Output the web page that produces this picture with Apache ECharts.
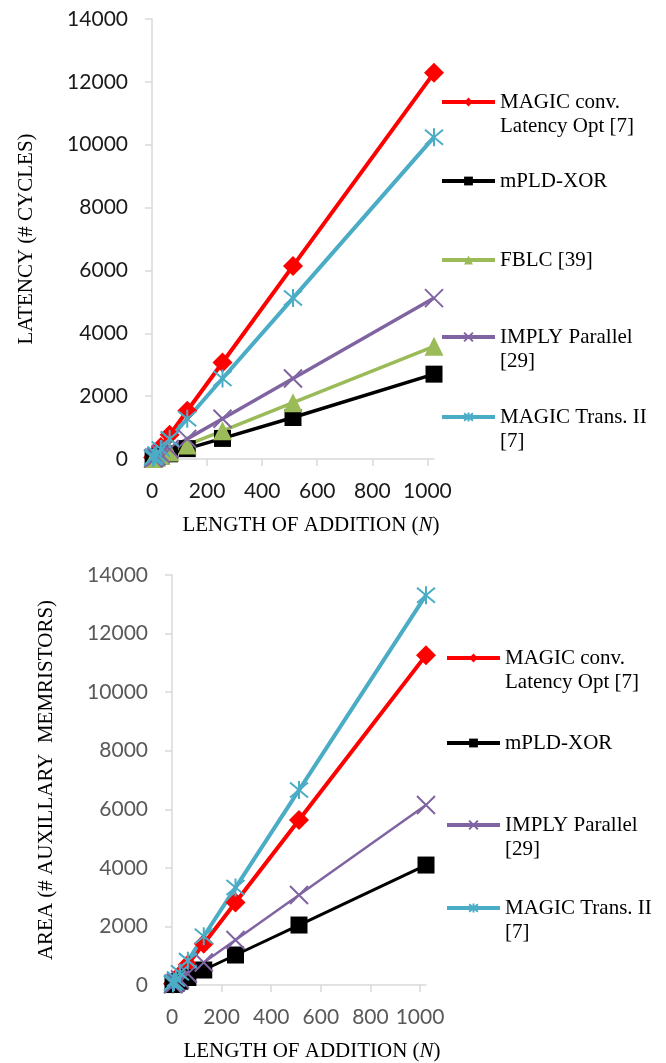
<!DOCTYPE html>
<html>
<head>
<meta charset="utf-8">
<script src="https://cdn.jsdelivr.net/npm/echarts@6/dist/echarts.min.js"></script>
<style>html,body{margin:0;padding:0;background:#fff}#c{width:666px;height:1063px}</style>
</head>
<body>
<div id="c"></div>
<script>
// ---- data ----
const N = [4, 8, 16, 32, 64, 128, 256, 512, 1024];
// Latency (# cycles)
const latMagicConv = [48, 96, 192, 384, 768, 1536, 3072, 6144, 12288];
const latMpldXor   = [12, 22, 42, 82, 165, 330, 655, 1320, 2700];
const latFblc      = [14, 28, 56, 112, 224, 448, 896, 1792, 3584];
const latImply     = [20, 40, 80, 160, 320, 640, 1280, 2560, 5120];
const latTrans     = [40, 80, 160, 320, 640, 1280, 2560, 5120, 10240];
// Area (# auxiliary memristors)
const areaMagicConv = [44, 88, 176, 352, 704, 1408, 2816, 5632, 11264];
const areaMpldXor   = [16, 32, 64, 128, 256, 512, 1024, 2048, 4096];
const areaImply     = [24, 48, 96, 192, 384, 768, 1536, 3072, 6144];
const areaTrans     = [52, 104, 208, 416, 832, 1664, 3328, 6656, 13312];
const xTicks = [0, 200, 400, 600, 800, 1000];
const yTicks = [0, 2000, 4000, 6000, 8000, 10000, 12000, 14000];
const seriesNames = ['MAGIC conv. Latency Opt [7]', 'mPLD-XOR', 'FBLC [39]', 'IMPLY Parallel [29]', 'MAGIC Trans. II [7]'];
const legendLines = {
  'MAGIC conv. Latency Opt [7]': ['MAGIC conv.', 'Latency Opt [7]'],
  'mPLD-XOR': ['mPLD-XOR'],
  'FBLC [39]': ['FBLC [39]'],
  'IMPLY Parallel [29]': ['IMPLY Parallel', '[29]'],
  'MAGIC Trans. II [7]': ['MAGIC Trans. II', '[7]']
};

const COLORS = {
  'MAGIC conv. Latency Opt [7]': '#FF0000',
  'mPLD-XOR': '#000000',
  'FBLC [39]': '#9BBB59',
  'IMPLY Parallel [29]': '#8064A2',
  'MAGIC Trans. II [7]': '#4BACC6'
};
const X_PATH = 'path://M0 0L10 10M10 0L0 10';
const STAR_PATH = 'path://M0 0L10 10M10 0L0 10M5 -1L5 11';
const SYM = {
  'MAGIC conv. Latency Opt [7]': {symbol: 'diamond', size: 20, open: false},
  'mPLD-XOR': {symbol: 'rect', size: 17, open: false},
  'FBLC [39]': {symbol: 'triangle', size: 19, open: false},
  'IMPLY Parallel [29]': {symbol: X_PATH, size: 18, open: true},
  'MAGIC Trans. II [7]': {symbol: STAR_PATH, size: 18, open: true}
};

function pairs(vals) { return N.map((n, i) => [n, vals[i]]); }

function mkSeries(name, vals, idx, width) {
  const c = COLORS[name], s = SYM[name];
  return {
    type: 'line', name: name, xAxisIndex: idx, yAxisIndex: idx,
    data: pairs(vals),
    symbol: s.symbol, symbolSize: s.size,
    lineStyle: {color: c, width: width},
    itemStyle: s.open ? {color: c, borderColor: c, borderWidth: 2} : {color: c},
    emphasis: {disabled: true},
    animation: false
  };
}

const tickLabelFont = 'Lato';
const serif = 'Liberation Serif';
const plain = v => String(v);

function xAxis(idx, labelColor, shift) {
  return {
    type: 'value', gridIndex: idx, min: 0, max: 1024,
    name: 'LENGTH OF ADDITION ({i|N})', nameLocation: 'middle', nameGap: 56,
    nameTextStyle: {fontFamily: serif, fontSize: 21, color: '#000', padding: [0, 0, 0, shift],
      rich: {i: {fontFamily: serif, fontSize: 21, fontStyle: 'italic', color: '#000'}}},
    axisLine: {show: true, lineStyle: {color: '#D9D9D9', width: 1.5}},
    axisTick: {show: true, length: 7, customValues: xTicks, lineStyle: {color: '#D9D9D9', width: 1.5}},
    axisLabel: {customValues: xTicks, formatter: plain, margin: 22, fontFamily: tickLabelFont, fontSize: 21, color: labelColor},
    splitLine: {show: false}
  };
}
function yAxis(idx, name, labelColor) {
  return {
    type: 'value', gridIndex: idx, min: 0, max: 14000, interval: 2000,
    name: name, nameLocation: 'middle', nameGap: 115,
    nameTextStyle: {fontFamily: serif, fontSize: 21, color: '#000'},
    axisLine: {show: true, lineStyle: {color: '#D9D9D9', width: 1.5}},
    axisTick: {show: true, length: 7, customValues: yTicks, lineStyle: {color: '#D9D9D9', width: 1.5}},
    axisLabel: {customValues: yTicks, formatter: plain, margin: 24, fontFamily: tickLabelFont, fontSize: 21, color: labelColor},
    splitLine: {show: false}
  };
}

function mkLegend(name, left, centerY) {
  const lines = legendLines[name];
  const multi = lines.length > 1;
  return {
    data: [name], orient: 'vertical', left: left, top: centerY - (multi ? 36 : 12),
    padding: 0, itemGap: 0, itemWidth: 53, itemHeight: 11, selectedMode: false,
    lineStyle: {width: 4},
    textStyle: {fontFamily: serif, fontSize: 21, lineHeight: 24, color: '#000'},
    formatter: function (n) {
      const l = legendLines[n];
      return l.length > 1 ? '\n' + l[0] + '\n' + l[1] : l[0];
    }
  };
}

const topLegendY = [102, 181, 260, 337, 417];
const botNames = ['MAGIC conv. Latency Opt [7]', 'mPLD-XOR', 'IMPLY Parallel [29]', 'MAGIC Trans. II [7]'];
const botLegendY = [658, 743, 825, 908];

const legends = [];
seriesNames.forEach((n, i) => legends.push(mkLegend(n, 440, topLegendY[i])));
botNames.forEach((n, i) => legends.push(mkLegend(n, 445, botLegendY[i])));

const option = {
  backgroundColor: '#fff',
  animation: false,
  grid: [
    {left: 152, top: 19, right: 232, bottom: 604},
    {left: 172, top: 575, right: 240, bottom: 78}
  ],
  xAxis: [xAxis(0, '#1a1a1a', 36), xAxis(1, '#595959', 26)],
  yAxis: [yAxis(0, 'LATENCY (# CYCLES)', '#1a1a1a'), yAxis(1, 'AREA (# AUXILLARY  MEMRISTORS)', '#595959')],
  legend: legends,
  series: [
    mkSeries(seriesNames[0], latMagicConv, 0, 4),
    mkSeries(seriesNames[1], latMpldXor, 0, 3.5),
    mkSeries(seriesNames[2], latFblc, 0, 3.5),
    mkSeries(seriesNames[3], latImply, 0, 3.5),
    mkSeries(seriesNames[4], latTrans, 0, 4),
    mkSeries(seriesNames[0], areaMagicConv, 1, 4),
    mkSeries(seriesNames[1], areaMpldXor, 1, 3),
    mkSeries(seriesNames[3], areaImply, 1, 2.5),
    mkSeries(seriesNames[4], areaTrans, 1, 4)
  ]
};
const chart = echarts.init(document.getElementById('c'), null, {renderer: 'canvas'});
chart.setOption(option);
</script>
</body>
</html>
